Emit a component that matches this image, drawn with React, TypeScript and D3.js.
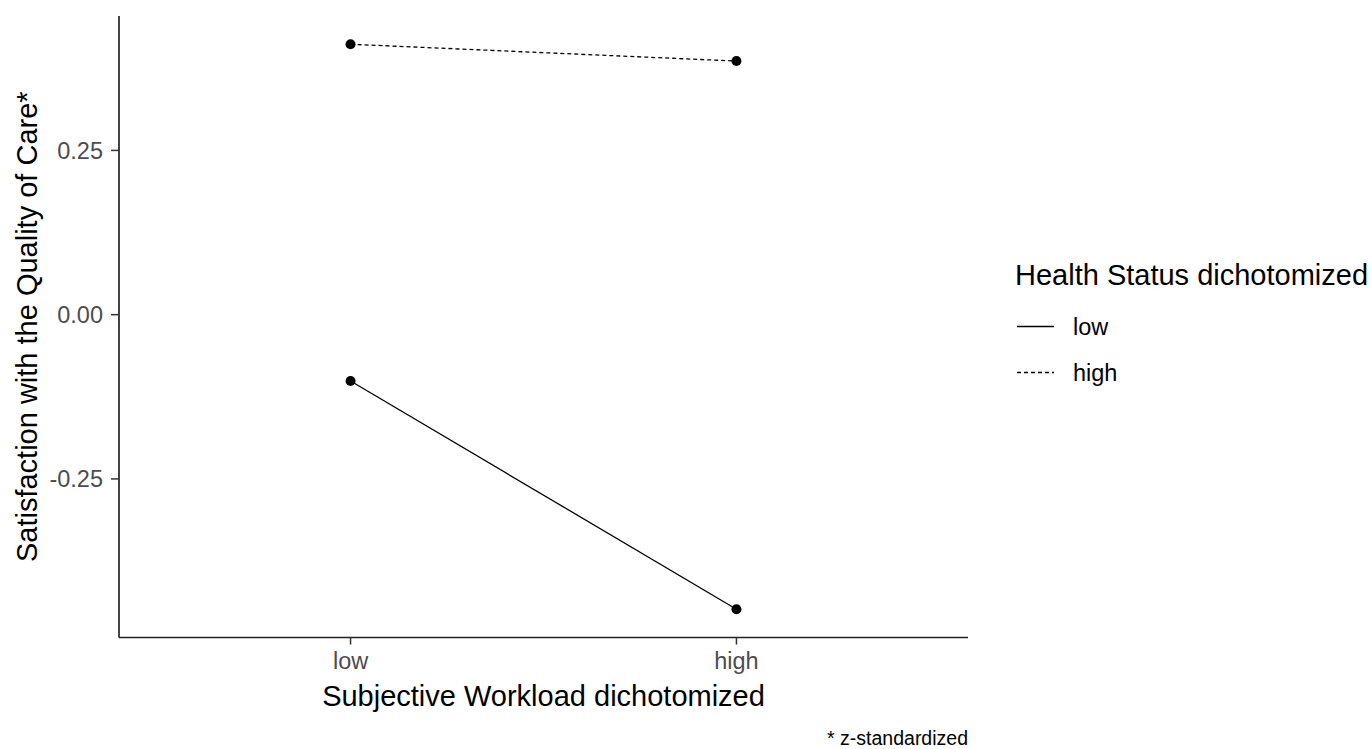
import React from "react";
import * as d3 from "d3";

const workloadLevels = ["low", "high"];
const healthLevels = ["low", "high"];
const healthLowValues = [-0.101, -0.4484];
const healthHighValues = [0.4116, 0.386];
const yTickValues = [-0.25, 0, 0.25];
const yTickLabels = ["-0.25", "0.00", "0.25"];

const W = 1372;
const H = 749;
const FONT = "'Liberation Sans', Arial, sans-serif";

export default function App() {
  const left = 119;
  const right = 968;
  const top = 16;
  const bottom = 637.5;

  const allVals = [...healthLowValues, ...healthHighValues];
  const minV = d3.min(allVals)!;
  const maxV = d3.max(allVals)!;
  const pad = (maxV - minV) * 0.05;
  const y = d3.scaleLinear().domain([minV - pad, maxV + pad]).range([bottom, top]);
  const xLin = d3.scaleLinear().domain([0.4, 2.6]).range([left, right]);
  const x = (cat: string) => xLin(workloadLevels.indexOf(cat) + 1);

  const series = [
    { name: healthLevels[0], values: healthLowValues, dash: undefined as string | undefined },
    { name: healthLevels[1], values: healthHighValues, dash: "4,3" },
  ];

  const line = d3
    .line<[string, number]>()
    .x((d) => x(d[0]))
    .y((d) => y(d[1]));

  return (
    <svg width={W} height={H} style={{ position: "absolute", left: 0, top: 0, background: "#fff" }} fontFamily={FONT}>
      <rect x={0} y={0} width={W} height={H} fill="#fff" />
      {/* series */}
      {series.map((s) => {
        const pts: [string, number][] = workloadLevels.map((c, i) => [c, s.values[i]]);
        return (
          <g key={s.name}>
            <path d={line(pts)!} fill="none" stroke="#000" strokeWidth={1.3} strokeDasharray={s.dash} />
            {pts.map((p, i) => (
              <circle key={i} cx={x(p[0])} cy={y(p[1])} r={5} fill="#000" />
            ))}
          </g>
        );
      })}
      {/* axes */}
      <line x1={left} x2={left} y1={top} y2={bottom} stroke="#222" strokeWidth={1.7} />
      <line x1={left} x2={right} y1={bottom} y2={bottom} stroke="#222" strokeWidth={1.7} />
      {yTickValues.map((v, i) => (
        <g key={v}>
          <line x1={left - 8} x2={left} y1={y(v)} y2={y(v)} stroke="#333" strokeWidth={1.5} />
          <text x={left - 16} y={y(v)} dy="0.35em" textAnchor="end" fontSize={23.5} fill="#4D4D4D">
            {yTickLabels[i]}
          </text>
        </g>
      ))}
      {workloadLevels.map((c) => (
        <g key={c}>
          <line x1={x(c)} x2={x(c)} y1={bottom} y2={bottom + 7} stroke="#333" strokeWidth={1.5} />
          <text x={x(c)} y={669} textAnchor="middle" fontSize={23.5} fill="#4D4D4D">
            {c}
          </text>
        </g>
      ))}
      <text x={(left + right) / 2} y={706} textAnchor="middle" fontSize={29} fill="#000">
        Subjective Workload dichotomized
      </text>
      <text
        transform={`translate(37, ${(top + bottom) / 2}) rotate(-90)`}
        textAnchor="middle"
        fontSize={29}
        fill="#000"
      >
        Satisfaction with the Quality of Care*
      </text>
      {/* legend */}
      <text x={1015} y={285} fontSize={29} fill="#000">
        Health Status dichotomized
      </text>
      {series.map((s, i) => (
        <g key={s.name}>
          <line
            x1={1017}
            x2={1054}
            y1={326.5 + i * 46}
            y2={326.5 + i * 46}
            stroke="#000"
            strokeWidth={1.4}
            strokeDasharray={s.dash}
          />
          <text x={1073} y={335 + i * 46} fontSize={23.5} fill="#000">
            {s.name}
          </text>
        </g>
      ))}
      <text x={right} y={745} textAnchor="end" fontSize={19.5} fill="#000">
        * z-standardized
      </text>
    </svg>
  );
}
